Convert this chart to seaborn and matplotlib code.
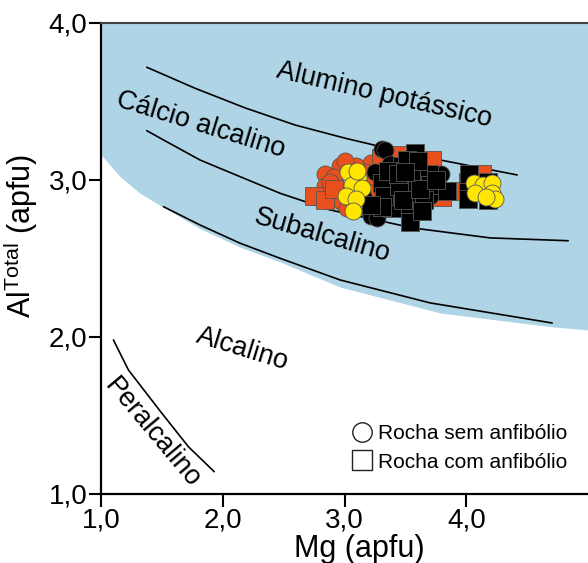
import matplotlib
matplotlib.use("Agg")
import matplotlib.pyplot as plt
import seaborn as sns
from matplotlib.lines import Line2D

# field boundaries (Mg apfu, Al total apfu)
blue_x = [1.0, 1.156, 1.320, 1.512, 1.813, 2.142, 2.471, 2.964, 3.786, 4.714, 5.0]
blue_y = [3.16, 3.021, 2.915, 2.826, 2.690, 2.572, 2.478, 2.318, 2.153, 2.064, 2.045]

line1_x = [1.375, 1.772, 2.183, 2.594, 3.005, 3.648, 4.418]
line1_y = [3.718, 3.584, 3.459, 3.350, 3.266, 3.148, 3.032]

line2_x = [1.375, 1.512, 1.813, 2.142, 2.471, 2.882, 3.564, 4.196, 4.837]
line2_y = [3.314, 3.255, 3.127, 3.021, 2.915, 2.809, 2.694, 2.631, 2.613]

line3_x = [1.512, 1.813, 2.142, 2.471, 2.964, 3.703, 4.706]
line3_y = [2.830, 2.713, 2.597, 2.501, 2.363, 2.217, 2.089]

peral_x = [1.101, 1.224, 1.499, 1.717, 1.929]
peral_y = [1.981, 1.790, 1.514, 1.301, 1.142]

# samples
orange_circ_mg = [2.84, 2.84, 2.96, 2.91, 3.22, 3.17, 3.20, 2.98, 3.02, 2.94, 3.09, 3.00, 2.88, 3.13]
orange_circ_al = [3.04, 2.96, 3.09, 3.02, 3.11, 3.05, 2.99, 2.86, 2.82, 2.94, 3.09, 3.12, 2.99, 2.93]

orange_sq_mg = [2.75, 2.84, 2.91, 3.22, 3.39, 3.72, 3.80, 4.13, 3.46, 3.30, 3.66, 3.95]
orange_sq_al = [2.90, 2.87, 2.94, 2.92, 3.15, 3.13, 2.89, 3.04, 3.16, 3.14, 3.02, 2.93]

black_circ_mg = [3.31, 3.25, 3.20, 3.22, 3.33, 3.37, 3.79, 3.70, 3.61, 3.27, 3.45, 3.15]
black_circ_al = [3.20, 3.05, 2.80, 2.77, 3.19, 3.10, 3.04, 2.90, 2.87, 2.76, 2.82, 2.90]

black_sq_mg = [3.42, 3.39, 3.39, 3.58, 3.59, 3.57, 3.53, 3.54, 3.54, 3.69, 3.70, 3.47, 3.84,
               4.01, 4.01, 4.18, 4.18, 4.02, 3.65, 3.64, 3.31, 3.32, 3.31, 3.36, 3.22, 3.51,
               3.45, 3.48, 3.62, 3.75, 3.44, 3.60, 3.50]
black_sq_al = [3.00, 2.90, 2.82, 3.17, 3.09, 3.01, 2.94, 2.83, 2.73, 3.04, 2.97, 3.09, 2.93,
               2.99, 2.88, 2.99, 2.87, 3.04, 2.87, 2.80, 2.98, 2.90, 2.83, 3.06, 2.84, 3.13,
               2.96, 2.87, 2.94, 3.00, 3.04, 3.12, 3.05]

yellow_mg = [3.03, 3.11, 3.06, 3.14, 3.01, 3.09, 3.07, 3.10,
             4.06, 4.14, 4.21, 4.07, 4.21, 4.24, 4.16]
yellow_al = [3.05, 3.01, 2.97, 2.95, 2.90, 2.88, 2.80, 3.06,
             2.98, 2.97, 2.98, 2.92, 2.92, 2.88, 2.89]

xticks = [1, 2, 3, 4]
xtick_labels = ["1,0", "2,0", "3,0", "4,0"]
yticks = [1, 2, 3, 4]
ytick_labels = ["1,0", "2,0", "3,0", "4,0"]

field_names = ["Alumino potássico", "Cálcio alcalino", "Subalcalino", "Alcalino", "Peralcalino"]
field_x = [3.325, 1.822, 2.816, 2.163, 1.423]
field_y = [3.541, 3.350, 2.643, 1.924, 1.389]
field_rot = [-13, -17, -16, -17, -50]

sns.set_style("ticks")
plt.rcParams["font.family"] = ["Liberation Sans", "DejaVu Sans"]
plt.rcParams["mathtext.fontset"] = "custom"
plt.rcParams["mathtext.rm"] = "Liberation Sans"
for key in ["text.color", "axes.labelcolor", "xtick.color", "ytick.color"]:
    plt.rcParams[key] = "black"

fig = plt.figure(figsize=(5.88, 5.63), dpi=100)
ax = fig.add_axes([0.172, 0.1226, 0.828, 0.8366])

ax.fill_between(blue_x, blue_y, 4.0, color="#aed4e5", lw=0, zorder=0)

for lx, ly in [(line1_x, line1_y), (line2_x, line2_y), (line3_x, line3_y), (peral_x, peral_y)]:
    sns.lineplot(x=lx, y=ly, sort=False, color="black", lw=1.2, ax=ax, zorder=2)

edge = "#555555"
sns.scatterplot(x=orange_circ_mg, y=orange_circ_al, marker="o", s=150, color="#e8501e",
                edgecolor=edge, linewidth=0.6, ax=ax, zorder=3, legend=False)
sns.scatterplot(x=orange_sq_mg, y=orange_sq_al, marker="s", s=155, color="#e8501e",
                edgecolor=edge, linewidth=0.6, ax=ax, zorder=3, legend=False)
sns.scatterplot(x=black_circ_mg, y=black_circ_al, marker="o", s=150, color="black",
                edgecolor=edge, linewidth=0.6, ax=ax, zorder=4, legend=False)
sns.scatterplot(x=black_sq_mg, y=black_sq_al, marker="s", s=155, color="black",
                edgecolor=edge, linewidth=0.6, ax=ax, zorder=5, legend=False)
sns.scatterplot(x=yellow_mg, y=yellow_al, marker="o", s=150, color="#ffe600",
                edgecolor=edge, linewidth=0.6, ax=ax, zorder=6, legend=False)

for name, tx, ty, rot in zip(field_names, field_x, field_y, field_rot):
    ax.text(tx, ty, name, fontsize=19.5, rotation=rot, rotation_mode="anchor",
            ha="center", va="center", zorder=7)

ax.set_xlim(1.0, 5.0)
ax.set_ylim(1.0, 4.0)
ax.set_xticks(xticks)
ax.set_xticklabels(xtick_labels)
ax.set_yticks(yticks)
ax.set_yticklabels(ytick_labels)
ax.tick_params(direction="out", length=9, width=1.5, labelsize=20, pad=1, colors="black")

for side in ["left", "bottom"]:
    ax.spines[side].set_linewidth(1.6)
    ax.spines[side].set_color("black")
ax.spines["top"].set_visible(True)
ax.spines["top"].set_linewidth(1.5)
ax.spines["top"].set_color("#444444")
ax.spines["right"].set_visible(False)

ax.set_xlabel("Mg (apfu)", fontsize=22)
ax.xaxis.set_label_coords(0.53, -0.085)
ax.set_ylabel(r"Al$^{\mathregular{Total}}$ (apfu)", fontsize=22)
ax.yaxis.set_label_coords(-0.125, 0.548)

handles = [
    Line2D([], [], marker="o", ls="", mfc="white", mec="#222222", ms=14, mew=1),
    Line2D([], [], marker="s", ls="", mfc="white", mec="#222222", ms=14, mew=1),
]
ax.legend(handles, ["Rocha sem anfibólio", "Rocha com anfibólio"], loc="lower right",
          bbox_to_anchor=(0.975, 0.03), frameon=False, fontsize=15,
          handletextpad=0.2, labelspacing=0.45, borderaxespad=0, handlelength=1.2)

fig.savefig("out.png", dpi=100)
